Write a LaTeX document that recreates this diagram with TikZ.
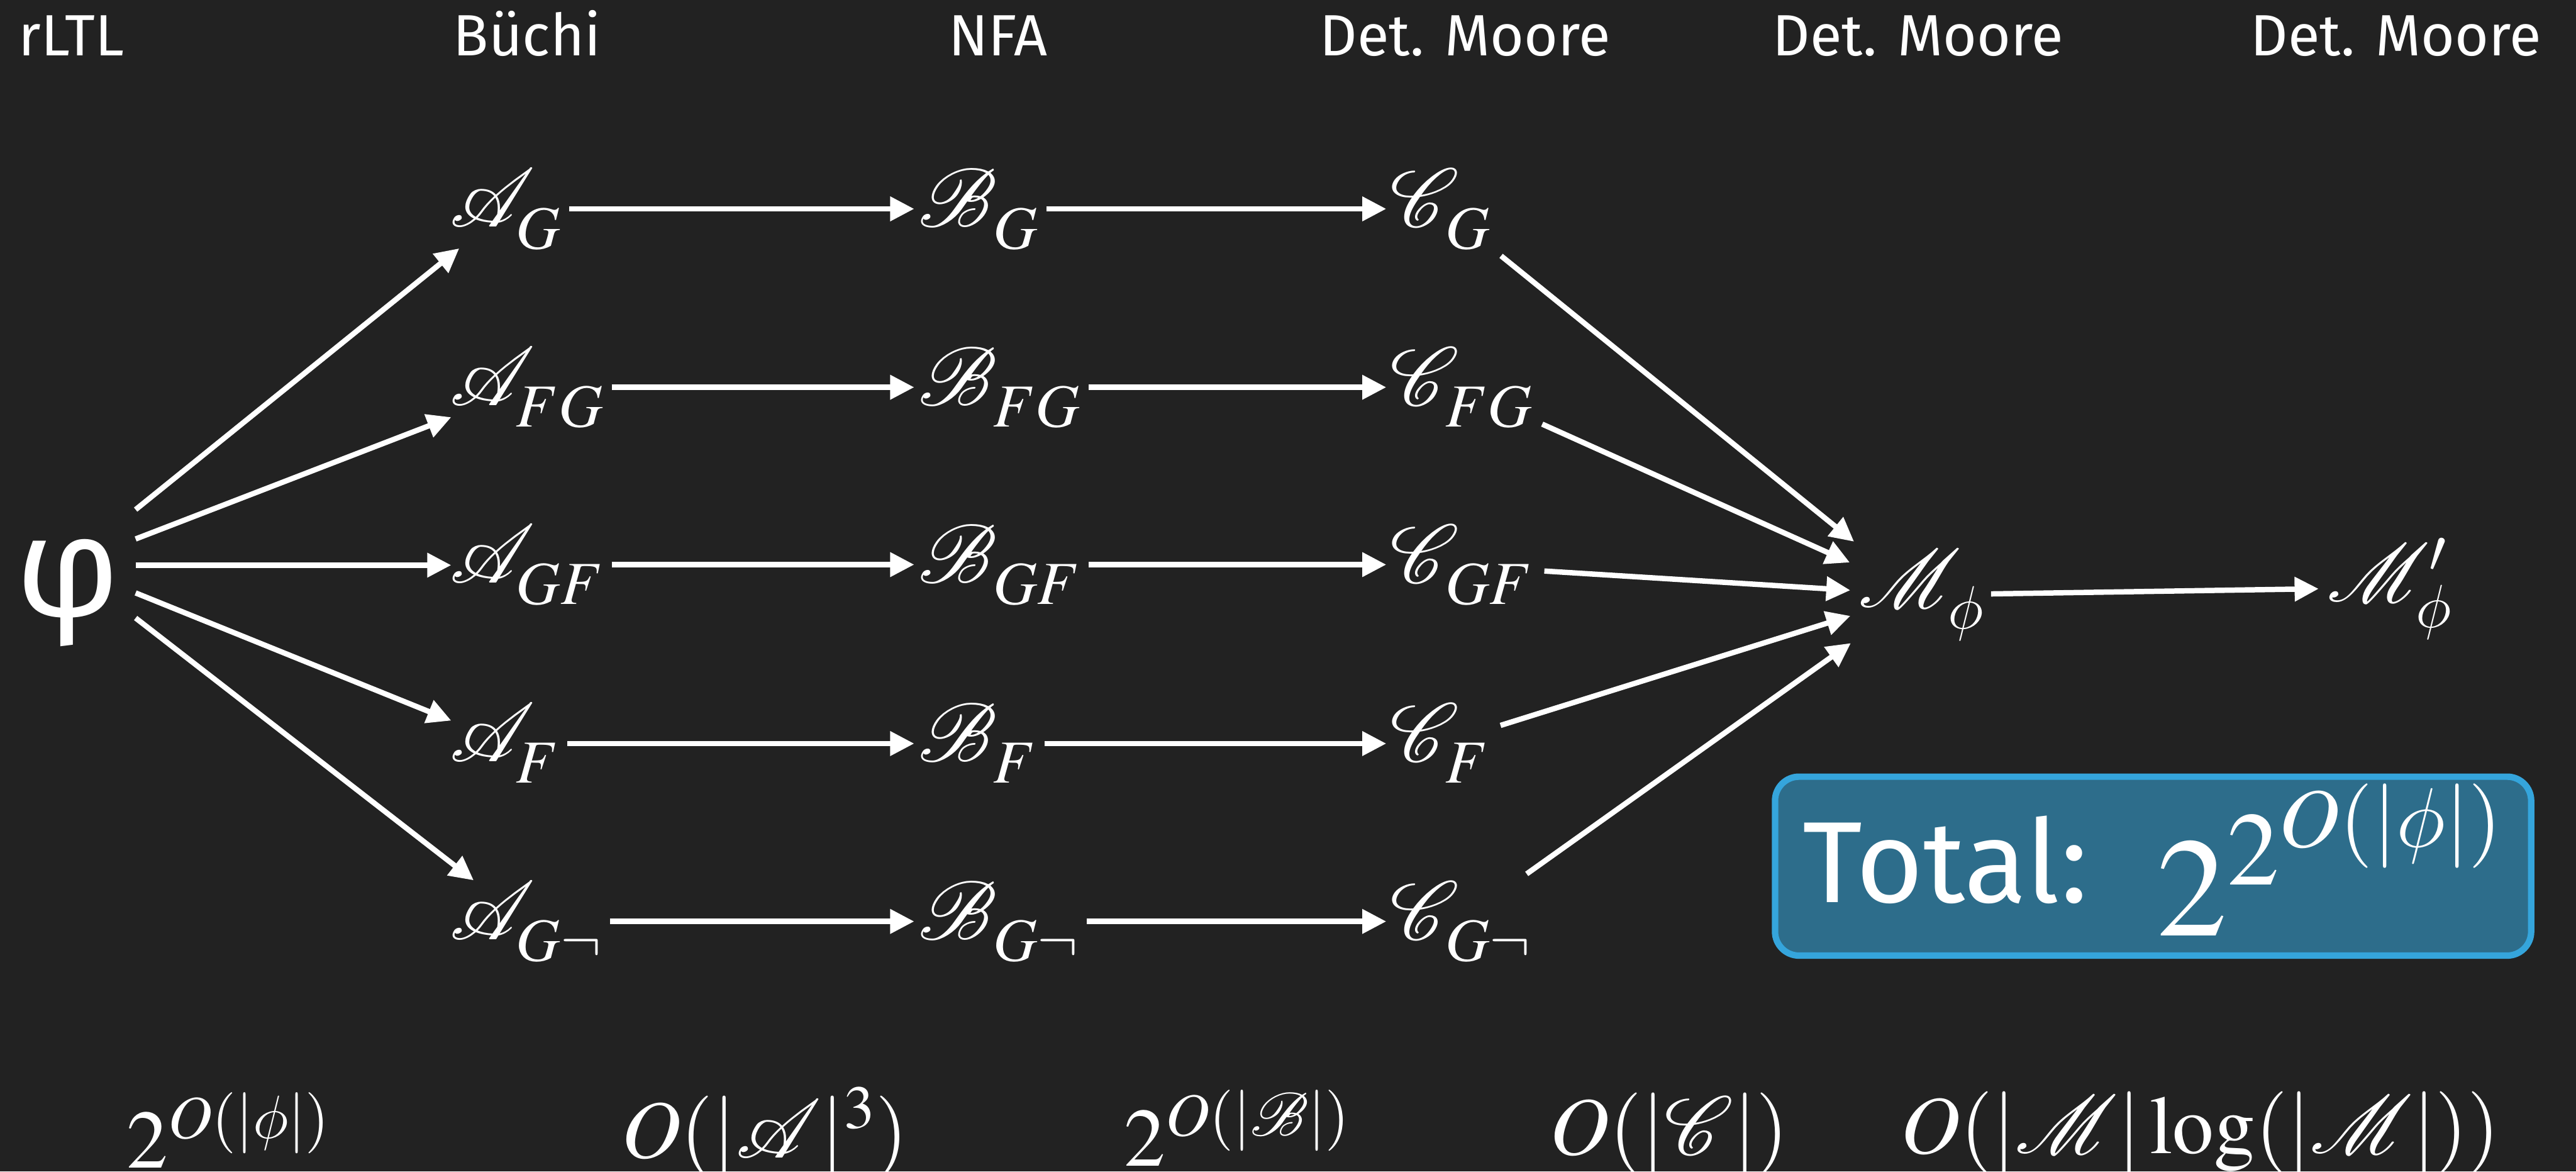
\documentclass[tikz,border=0pt]{standalone}
\usepackage{mathptmx}
\usepackage[no-math]{fontspec}
\setmainfont{Fira Sans}
\DeclareFontFamily{U}{myrsfs}{\skewchar\font127 }
\DeclareFontShape{U}{myrsfs}{m}{n}{<-> rsfs10}{}
\DeclareMathAlphabet{\mathscr}{U}{myrsfs}{m}{n}
\DeclareFontFamily{OML}{mycmm}{\skewchar\font127 }
\DeclareFontShape{OML}{mycmm}{m}{it}{<-> cmmi12}{}
\DeclareSymbolFont{cmlet}{OML}{mycmm}{m}{it}
\DeclareMathSymbol{\cmphi}{\mathord}{cmlet}{"1E}
\newcommand{\sbx}[1]{_{\raisebox{-0.11em}{$\scriptstyle #1$}}}
\usetikzlibrary{arrows.meta}
\definecolor{bgc}{HTML}{222222}
\definecolor{boxfill}{HTML}{2D6D8B}
\definecolor{boxline}{HTML}{35A5DC}
\begin{document}
\begin{tikzpicture}[
  toplab/.style={text=white, inner sep=0pt, anchor=base, font=\fontsize{31}{36}\selectfont},
  mnode/.style={text=white, inner xsep=0pt, inner ysep=0pt, text height=1.2cm, text depth=0.52cm, anchor=base west, font=\fontsize{44}{50}\selectfont},
  mmnode/.style={mnode, text depth=0.7cm},
  blab/.style={text=white, inner sep=0pt, anchor=base west, font=\fontsize{44}{50}\selectfont},
  arr/.style={draw=white, line width=0.1cm, -{Triangle[length=0.45cm,width=0.44cm]}},
  rowarr/.style={arr, shorten <=0.14cm, shorten >=0.07cm}
]
\fill[bgc] (0,0) rectangle (48.24,-21.93);
\useasboundingbox (0,0) rectangle (48.24,-21.93);

% top labels
\node[toplab, anchor=base west] (l0) at (0.34,-1.04) {rLTL};
\node[toplab] (l1) at (9.87,-1.04) {Büchi};
\node[toplab] (l2) at (18.69,-1.04) {NFA};
\node[toplab] (l3) at (27.44,-1.04) {Det. Moore};
\node[toplab] (l4) at (35.92,-1.04) {Det. Moore};
\node[toplab] (l5) at (44.87,-1.04) {Det. Moore};

% phi
\node[text=white, inner sep=0pt, font=\fontsize{76}{84}\selectfont] (phi) at (1.27,-11.10) {φ};

% automata
\node[mnode] (AG)  at (8.42,-4.25)  {$\mathscr{A}\sbx{G}$};
\node[mnode] (AFG) at (8.42,-7.59)  {$\mathscr{A}\sbx{FG}$};
\node[mnode] (AGF) at (8.42,-10.91) {$\mathscr{A}\sbx{GF}$};
\node[mnode] (AF)  at (8.42,-14.26) {$\mathscr{A}\sbx{F}$};
\node[mnode] (AGn) at (8.42,-17.59) {$\mathscr{A}\sbx{G\neg}$};

\node[mnode] (BG)  at (17.19,-4.25)  {$\mathscr{B}\sbx{G}$};
\node[mnode] (BFG) at (17.19,-7.59)  {$\mathscr{B}\sbx{FG}$};
\node[mnode] (BGF) at (17.19,-10.91) {$\mathscr{B}\sbx{GF}$};
\node[mnode] (BF)  at (17.19,-14.26) {$\mathscr{B}\sbx{F}$};
\node[mnode] (BGn) at (17.19,-17.59) {$\mathscr{B}\sbx{G\neg}$};

\node[mnode] (CG)  at (26.03,-4.25)  {$\mathscr{C}\sbx{G}$};
\node[mnode] (CFG) at (26.03,-7.59)  {$\mathscr{C}\sbx{FG}$};
\node[mnode] (CGF) at (26.03,-10.91) {$\mathscr{C}\sbx{GF}$};
\node[mnode] (CF)  at (26.03,-14.26) {$\mathscr{C}\sbx{F}$};
\node[mnode] (CGn) at (26.03,-17.59) {$\mathscr{C}\sbx{G\neg}$};

\node[mmnode] (M)  at (34.80,-11.37) {$\mathscr{M}\sbx{\cmphi}$};
\node[mmnode] (Mp) at (43.57,-11.27) {$\mathscr{M}'_{\cmphi}$};

% fan from phi
\draw[arr] ([shift={(1.27,1.56)}]phi.center) -- ([shift={(0.18,-0.40)}]AG.base west);
\draw[arr] ([shift={(1.27,1.01)}]phi.center) -- ([shift={(0.03,-0.22)}]AFG.base west);
\draw[arr] ([shift={(1.27,0.52)}]phi.center) -- ([shift={(0.03,0.33)}]AGF.base west);
\draw[arr] ([shift={(1.27,0)}]phi.center) -- ([shift={(0.03,0.77)}]AF.base west);
\draw[arr] ([shift={(1.27,-0.47)}]phi.center) -- ([shift={(0.45,1.11)}]AGn.base west);

% rows
\foreach \r in {G,FG,GF,F,Gn}{
  \draw[rowarr] (A\r.east) -- (B\r.west);
  \draw[rowarr] (B\r.east) -- (C\r.west);
}

% converging to M
\draw[arr] ([shift={(2.08,-0.54)}]CG.base west) -- ([shift={(-0.08,1.23)}]M.base west);
\draw[arr] ([shift={(2.85,-0.35)}]CFG.base west) -- ([shift={(-0.16,0.84)}]M.base west);
\draw[arr] ([shift={(2.89,0.22)}]CGF.base west) -- ([shift={(-0.15,0.32)}]M.base west);
\draw[arr] ([shift={(2.07,0.68)}]CF.base west) -- ([shift={(-0.15,-0.16)}]M.base west);
\draw[arr] ([shift={(2.56,1.23)}]CGn.base west) -- ([shift={(-0.14,-0.67)}]M.base west);

\draw[arr, shorten <=0.12cm, shorten >=0.15cm] (M.east) -- (Mp.west);

% total box
\node[draw=boxline, fill=boxfill, line width=0.12cm, rounded corners=0.45cm,
      minimum width=14.16cm, minimum height=3.35cm, inner sep=0pt] (totalbox) at (40.32,-16.215) {};
\node[text=white, inner sep=0pt, anchor=base west, font=\fontsize{61.5}{70}\selectfont] (totallab) at (33.75,-16.90) {Total:};
\node[text=white, inner sep=0pt, anchor=base west, font=\fontsize{75}{85}\selectfont] (totalexp) at (40.38,-17.52) {$2^{2^{O(|\cmphi|)}}$};

% bottom complexities
\node[blab] (c1) at (2.37,-21.87)  {$2^{O(|\cmphi|)}$};
\node[blab] (c2) at (11.63,-21.68) {$O(|\mathscr{A}|^3)$};
\node[blab] (c3) at (21.05,-21.83) {$2^{O(|\mathscr{B}|)}$};
\node[blab] (c4) at (29.02,-21.62) {$O(|\mathscr{C}|)$};
\node[blab] (c5) at (35.59,-21.59) {$O(|\mathscr{M}|\log(|\mathscr{M}|))$};
\end{tikzpicture}
\end{document}
